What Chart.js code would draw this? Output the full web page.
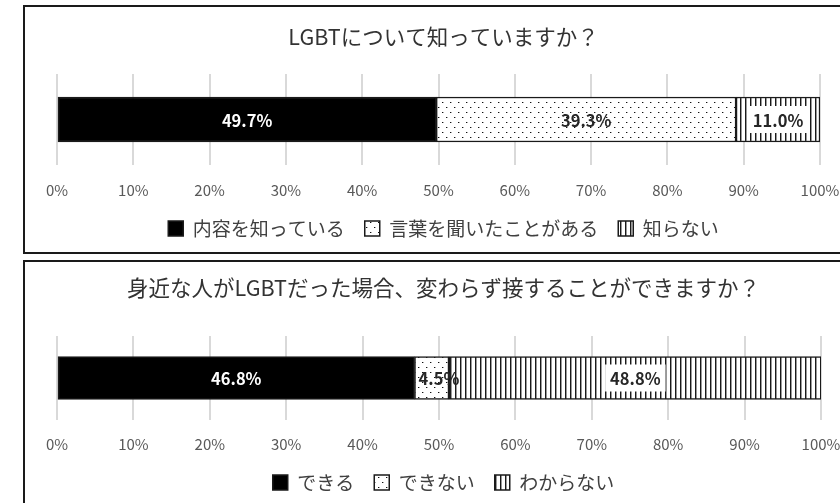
<!DOCTYPE html>
<html lang="ja">
<head>
<meta charset="utf-8">
<script src="https://cdn.jsdelivr.net/npm/chart.js@4.4.1/dist/chart.umd.min.js"></script>
<style>
  html, body { margin: 0; padding: 0; background: #fff; overflow: hidden; }
  body { width: 840px; height: 503px; position: relative; }
  canvas { position: absolute; left: 0; }
  #chart1 { top: 0; }
  #chart2 { top: 255px; }
  .frame { position: absolute; left: 23px; width: 900px; border: 2px solid #1a1a1a; box-sizing: border-box; pointer-events: none; }
  #frame1 { top: 5px; height: 249px; }
  #frame2 { top: 260px; height: 300px; }
</style>
</head>
<body>
<canvas id="chart1" width="856" height="248"></canvas>
<canvas id="chart2" width="856" height="247"></canvas>
<div class="frame" id="frame1"></div>
<div class="frame" id="frame2"></div>
<script>
const q1Title = 'LGBTについて知っていますか？';
const q1Labels = ['内容を知っている', '言葉を聞いたことがある', '知らない'];
const q1Values = [49.7, 39.3, 11.0];

const q2Title = '身近な人がLGBTだった場合、変わらず接することができますか？';
const q2Labels = ['できる', 'できない', 'わからない'];
const q2Values = [46.8, 4.5, 48.8];

const tickStep = 10;

Chart.defaults.font.family = '"Noto Sans CJK JP", "Noto Sans", sans-serif';

// fills: solid black, sparse dots, vertical lines
function dotPattern() {
  const c = document.createElement('canvas');
  c.width = 8; c.height = 10;
  const g = c.getContext('2d');
  g.fillStyle = '#fff';
  g.fillRect(0, 0, 8, 10);
  g.fillStyle = '#111';
  g.fillRect(2, 2, 1, 1);
  g.fillRect(6, 7, 1, 1);
  g.fillStyle = '#aaa';
  g.fillRect(3, 2, 1, 1);
  g.fillRect(7, 7, 1, 1);
  return g.createPattern(c, 'repeat');
}

function linePattern() {
  const c = document.createElement('canvas');
  c.width = 5; c.height = 4;
  const g = c.getContext('2d');
  g.fillStyle = '#fff';
  g.fillRect(0, 0, 5, 4);
  g.fillStyle = '#1a1a1a';
  g.fillRect(0, 0, 1, 4);
  g.fillStyle = '#999';
  g.fillRect(1, 0, 1, 4);
  return g.createPattern(c, 'repeat');
}

const fills = ['#000', dotPattern(), linePattern()];
const labelColors = ['#fff', '#262626', '#262626'];
const labelBoxes = [false, false, true];

const valueLabels = {
  id: 'valueLabels',
  afterDatasetsDraw(chart) {
    const ctx = chart.ctx;
    ctx.save();
    ctx.font = 'bold 16.5px "Noto Sans CJK JP"';
    ctx.textBaseline = 'middle';
    chart.data.datasets.forEach((ds, i) => {
      chart.getDatasetMeta(i).data.forEach((bar, j) => {
        const text = ds.data[j].toFixed(1) + '%';
        const { x, y } = bar.getCenterPoint();
        const tw = ctx.measureText(text).width;
        // narrow segment: start the text at its left edge, like Excel does
        const cx = tw > Math.abs(bar.x - bar.base) ? Math.min(bar.x, bar.base) + 4 + tw / 2 : x;
        if (labelBoxes[i]) {
          const w = tw + 10;
          ctx.fillStyle = '#fff';
          ctx.fillRect(cx - w / 2, y - 13.5, w, 27);
        }
        ctx.textAlign = 'center';
        ctx.fillStyle = labelColors[i];
        ctx.fillText(text, cx, y + 1);
      });
    });
    ctx.restore();
  }
};

function makeChart(id, title, labels, values, o) {
  return new Chart(document.getElementById(id), {
    type: 'bar',
    data: {
      labels: [''],
      datasets: labels.map((label, i) => ({
        label: label,
        data: [values[i]],
        backgroundColor: fills[i],
        borderColor: '#1a1a1a',
        borderWidth: 1.5,
        borderSkipped: false,
        barThickness: o.bar,
      })),
    },
    options: {
      indexAxis: 'y',
      responsive: false,
      animation: false,
      layout: { padding: { left: 57, right: 26, top: 0, bottom: 0 } },
      scales: {
        x: {
          stacked: true,
          min: 0,
          max: 100,
          ticks: {
            stepSize: tickStep,
            callback: (v) => v + '%',
            color: '#595959',
            font: { size: 15 },
            padding: o.tickPad,
          },
          grid: { color: '#d9d9d9', lineWidth: 2, drawTicks: false },
          border: { display: false },
          afterFit: (scale) => { scale.height = o.axisH; },
        },
        y: { stacked: true, display: false },
      },
      plugins: {
        title: {
          display: true,
          text: title,
          color: '#333',
          font: { size: 21.5, weight: 'normal' },
          padding: { top: o.titleTop, bottom: o.titleBottom },
        },
        legend: {
          position: 'bottom',
          labels: {
            boxWidth: 15,
            boxHeight: 15,
            padding: 20,
            color: '#404040',
            font: { size: 19 },
          },
        },
        tooltip: { enabled: false },
      },
    },
    plugins: [valueLabels],
  });
}

makeChart('chart1', q1Title, q1Labels, q1Values,
  { bar: 45, tickPad: 16.6, axisH: 34, titleTop: 24.1, titleBottom: 24.1 });
makeChart('chart2', q2Title, q2Labels, q2Values,
  { bar: 43, tickPad: 15.6, axisH: 33, titleTop: 20.1, titleBottom: 35.1 });
</script>
</body>
</html>
